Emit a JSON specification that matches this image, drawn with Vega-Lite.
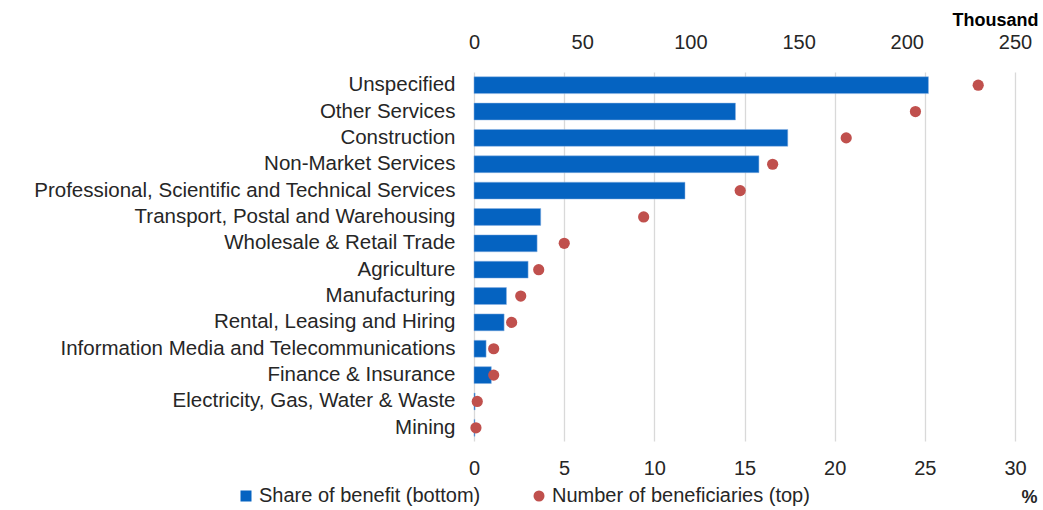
{
  "$schema": "https://vega.github.io/schema/vega-lite/v6.json",
  "autosize": "none",
  "width": 541,
  "height": 369,
  "padding": {"left": 474, "top": 72, "right": 28, "bottom": 69},
  "background": "white",
  "config": {
    "font": "Liberation Sans",
    "view": {"stroke": null},
    "axis": {"labelFont": "Liberation Sans", "labelColor": "#262626", "labelFontSize": 20, "domain": false, "ticks": false, "labelFlush": false},
    "legend": {"labelFont": "Liberation Sans", "labelFontSize": 20, "labelColor": "#262626", "labelLimit": 600}
  },
  "data": {
    "values": [
      {"industry": "Unspecified", "share": 25.2, "beneficiaries": 233},
      {"industry": "Other Services", "share": 14.5, "beneficiaries": 204},
      {"industry": "Construction", "share": 17.4, "beneficiaries": 172},
      {"industry": "Non-Market Services", "share": 15.8, "beneficiaries": 138},
      {"industry": "Professional, Scientific and Technical Services", "share": 11.7, "beneficiaries": 123},
      {"industry": "Transport, Postal and Warehousing", "share": 3.7, "beneficiaries": 78.4},
      {"industry": "Wholesale & Retail Trade", "share": 3.5, "beneficiaries": 41.7},
      {"industry": "Agriculture", "share": 3.0, "beneficiaries": 29.9},
      {"industry": "Manufacturing", "share": 1.8, "beneficiaries": 21.6},
      {"industry": "Rental, Leasing and Hiring", "share": 1.67, "beneficiaries": 17.4},
      {"industry": "Information Media and Telecommunications", "share": 0.67, "beneficiaries": 9.1},
      {"industry": "Finance & Insurance", "share": 0.96, "beneficiaries": 9.1},
      {"industry": "Electricity, Gas, Water & Waste", "share": 0.06, "beneficiaries": 1.5},
      {"industry": "Mining", "share": 0.05, "beneficiaries": 0.9}
    ]
  },
  "encoding": {
    "y": {
      "field": "industry", "type": "nominal", "sort": null,
      "scale": {"paddingInner": 0.36, "paddingOuter": 0.18},
      "axis": {"title": null, "labelLimit": 600, "labelPadding": 19, "grid": false, "labelFontSize": 20.5}
    }
  },
  "layer": [
    {
      "mark": {"type": "bar", "color": "#0563C1", "stroke": "#8DB3E2", "strokeWidth": 0.5},
      "encoding": {
        "x": {
          "field": "share", "type": "quantitative",
          "scale": {"domain": [0, 30], "nice": false},
          "axis": {"orient": "bottom", "values": [0, 5, 10, 15, 20, 25, 30], "grid": true, "gridColor": "#D9D9D9", "gridWidth": 1.3, "labelPadding": 17,
            "title": "%", "titleFont": "Liberation Sans", "titleFontSize": 18, "titleFontWeight": "bold", "titleColor": "#262626", "titleAnchor": "end", "titleX": 563, "titleY": 56, "titleAlign": "right", "titleBaseline": "middle"}
        },
        "color": {"datum": "Share of benefit (bottom)", "type": "nominal",
          "scale": {"domain": ["Share of benefit (bottom)", "Number of beneficiaries (top)"], "range": ["#0563C1", "#C0504D"]},
          "legend": {"title": null, "orient": "none", "direction": "horizontal", "legendX": -238, "legendY": 414, "symbolSize": 121, "symbolStrokeWidth": 0, "columnPadding": 48, "labelOffset": 3}
        }
      }
    },
    {
      "mark": {"type": "point", "filled": true, "size": 125, "opacity": 1, "shape": "circle", "strokeWidth": 0},
      "encoding": {
        "x": {
          "field": "beneficiaries", "type": "quantitative",
          "scale": {"domain": [0, 250], "nice": false},
          "axis": {"orient": "top", "values": [0, 50, 100, 150, 200, 250], "grid": false, "labelPadding": 20,
            "title": "Thousand", "titleFont": "Liberation Sans", "titleFontSize": 18, "titleFontWeight": "bold", "titleColor": "#000000", "titleAnchor": "end", "titleX": 564, "titleY": -52, "titleAlign": "right", "titleBaseline": "middle"}
        },
        "color": {"datum": "Number of beneficiaries (top)", "type": "nominal"},
        "shape": {"datum": "Number of beneficiaries (top)", "type": "nominal",
          "scale": {"domain": ["Share of benefit (bottom)", "Number of beneficiaries (top)"], "range": ["square", "circle"]}}
      }
    }
  ],
  "resolve": {"scale": {"x": "independent"}, "axis": {"x": "independent"}}
}
